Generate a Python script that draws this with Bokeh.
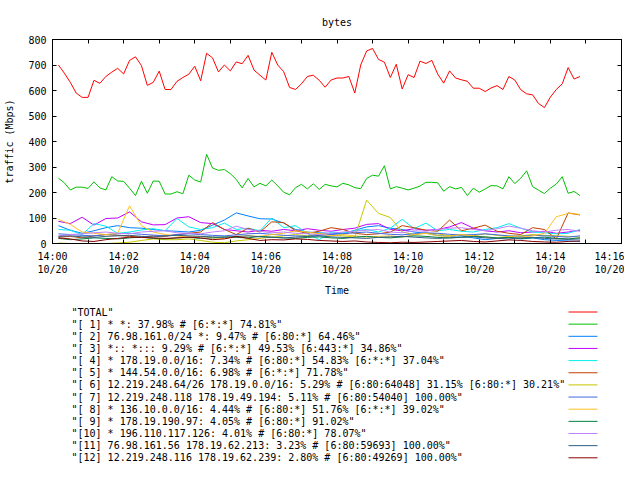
from bokeh.plotting import figure
from bokeh.models import Range1d, LinearAxis, FixedTicker
from bokeh.layouts import column
from bokeh.embed import file_html
from bokeh.resources import INLINE
from bokeh.core.properties import value

FONT = "DejaVu Sans Mono"

# ---------------- data ----------------
# seconds after 14:00 (10/20)
t_main = list(range(10, 900, 10))      # TOTAL and [1], sampled every 10 s
t_low = list(range(10, 900, 20))       # smaller flows, read every 20 s

total = [700, 668, 632, 590, 573, 573, 640, 628, 655, 672, 687, 665, 718, 732, 698,
         620, 632, 676, 604, 604, 636, 651, 664, 695, 638, 746, 728, 673, 700, 677,
         712, 705, 738, 680, 660, 641, 750, 700, 674, 612, 604, 626, 655, 660, 640,
         613, 641, 649, 649, 655, 590, 700, 755, 765, 722, 711, 651, 703, 606, 662,
         651, 715, 706, 718, 664, 629, 677, 649, 642, 636, 609, 609, 596, 610, 619,
         604, 655, 641, 603, 587, 583, 549, 533, 574, 604, 626, 690, 645, 655]
s1 = [256, 238, 210, 221, 221, 216, 242, 218, 210, 262, 245, 244, 217, 188, 244,
      197, 245, 244, 194, 194, 203, 195, 268, 249, 241, 350, 296, 287, 290, 274,
      251, 218, 255, 222, 236, 226, 249, 226, 201, 191, 219, 232, 214, 234, 212,
      232, 226, 222, 236, 230, 219, 215, 255, 268, 264, 305, 214, 223, 217, 210,
      217, 225, 240, 240, 238, 205, 223, 214, 220, 188, 217, 201, 214, 227, 226,
      214, 262, 235, 256, 285, 223, 209, 196, 217, 233, 262, 197, 204, 188]
s2 = [70, 52, 40, 50, 62, 70, 62, 60, 55, 50, 48, 45, 52, 72, 92, 120, 108, 97, 96, 80,
      55, 45, 42, 40, 38, 52, 65, 70, 60, 55, 45, 40, 32, 28, 30, 22, 15, 20, 25, 18,
      22, 15, 12, 10, 8]
s3 = [87, 78, 103, 72, 98, 100, 124, 85, 73, 74, 100, 105, 82, 78, 55, 50, 45, 52, 48, 55,
      50, 58, 52, 48, 55, 60, 75, 78, 55, 50, 58, 52, 55, 65, 82, 60, 50, 45, 50, 42,
      45, 48, 40, 45, 52]
s4 = [55, 52, 35, 78, 68, 40, 45, 53, 58, 50, 98, 65, 55, 62, 80, 55, 60, 50, 100, 62,
      70, 40, 15, 45, 42, 50, 55, 45, 60, 95, 58, 80, 50, 55, 48, 45, 55, 62, 78, 60,
      45, 42, 38, 40, 55]
s5 = [25, 28, 22, 30, 35, 32, 28, 25, 30, 28, 35, 40, 45, 82, 55, 35, 60, 45, 85, 82,
      50, 40, 48, 62, 55, 40, 35, 38, 45, 70, 62, 52, 48, 92, 50, 60, 72, 48, 40, 35,
      62, 55, 18, 120, 112]
s6 = [2, 0, 0, 0, 0, 2, 5, 12, 18, 15, 15, 18, 12, 5, 3, 10, 15, 20, 25, 30,
      35, 30, 40, 35, 30, 25, 170, 118, 102, 45, 35, 40, 38, 30, 35, 30, 38, 32, 28, 30,
      35, 32, 30, 28, 25]
s7 = [38, 35, 32, 30, 35, 38, 40, 36, 33, 30, 35, 38, 35, 32, 30, 34, 38, 40, 36, 32,
      30, 28, 32, 35, 38, 42, 45, 40, 36, 34, 38, 42, 40, 36, 33, 35, 38, 34, 30, 28,
      32, 30, 28, 25, 30]
s8 = [95, 75, 45, 40, 35, 40, 148, 70, 45, 35, 30, 25, 28, 22, 20, 25, 30, 28, 35, 40,
      50, 45, 38, 30, 35, 30, 25, 28, 30, 25, 35, 40, 30, 28, 35, 30, 25, 22, 28, 25,
      30, 40, 105, 118, 114]
s9 = [20, 15, 18, 22, 20, 18, 22, 25, 20, 18, 22, 24, 20, 22, 26, 24, 22, 28, 25, 22,
      20, 24, 26, 22, 20, 25, 28, 24, 22, 26, 30, 28, 24, 22, 25, 28, 26, 22, 24, 20,
      22, 25, 20, 18, 22]
s10 = [30, 35, 38, 42, 45, 40, 38, 45, 48, 50, 42, 40, 38, 45, 50, 68, 55, 48, 42, 45,
       40, 38, 35, 40, 45, 48, 52, 55, 45, 42, 50, 48, 55, 60, 62, 55, 50, 58, 68, 60,
       50, 45, 52, 55, 48]
s11 = [28, 30, 26, 24, 28, 30, 32, 28, 26, 30, 32, 30, 28, 26, 24, 28, 30, 26, 24, 22,
       25, 28, 30, 26, 24, 22, 20, 24, 26, 28, 25, 22, 20, 22, 24, 26, 22, 20, 18, 22,
       24, 20, 18, 16, 18]
s12 = [22, 18, 10, 8, 15, 20, 25, 24, 22, 20, 22, 25, 22, 15, 18, 28, 20, 12, 15, 14,
       18, 16, 12, 10, 8, 10, 6, 4, 3, 5, 4, 6, 8, 10, 12, 8, 6, 10, 14, 12,
       8, 6, 5, 8, 10]

labels = [
    '"TOTAL"',
    '"[ 1] * *: 37.98% # [6:*:*] 74.81%"',
    '"[ 2] 76.98.161.0/24 *: 9.47% # [6:80:*] 64.46%"',
    '"[ 3] *:: *::: 9.29% # [6:*:*] 49.53% [6:443:*] 34.86%"',
    '"[ 4] * 178.19.0.0/16: 7.34% # [6:80:*] 54.83% [6:*:*] 37.04%"',
    '"[ 5] * 144.54.0.0/16: 6.98% # [6:*:*] 71.78%"',
    '"[ 6] 12.219.248.64/26 178.19.0.0/16: 5.29% # [6:80:64048] 31.15% [6:80:*] 30.21%"',
    '"[ 7] 12.219.248.118 178.19.49.194: 5.11% # [6:80:54040] 100.00%"',
    '"[ 8] * 136.10.0.0/16: 4.44% # [6:80:*] 51.76% [6:*:*] 39.02%"',
    '"[ 9] * 178.19.190.97: 4.05% # [6:80:*] 91.02%"',
    '"[10] * 196.110.117.126: 4.01% # [6:80:*] 78.07%"',
    '"[11] 76.98.161.56 178.19.62.213: 3.23% # [6:80:59693] 100.00%"',
    '"[12] 12.219.248.116 178.19.62.239: 2.80% # [6:80:49269] 100.00%"',
]
colors = ["#ff0000", "#00c000", "#0080ff", "#c000ff", "#00eeee", "#c04000", "#c8c800",
          "#4169e1", "#ffc020", "#008040", "#c080ff", "#306080", "#8b0000"]

x_ticks = [0, 120, 240, 360, 480, 600, 720, 840, 960]
x_tick_labels = ["14:00\n10/20", "14:02\n10/20", "14:04\n10/20", "14:06\n10/20",
                 "14:08\n10/20", "14:10\n10/20", "14:12\n10/20", "14:14\n10/20",
                 "14:16\n10/20"]
x_minor_ticks = [60, 180, 300, 420, 540, 660, 780, 900]
y_ticks = [0, 100, 200, 300, 400, 500, 600, 700, 800]

# ---------------- layout constants (pixels) ----------------
W, H1, H2 = 624, 300, 164
LEFT, RIGHT, TOP = 52, 3, 39
BOTTOM = H1 - TOP - 204

# ---------------- main plot ----------------
p = figure(width=W, height=H1, x_range=Range1d(0, 960), y_range=Range1d(0, 800),
           output_backend="svg", toolbar_location=None, title="bytes",
           min_border_left=LEFT, min_border_right=RIGHT, min_border_top=TOP,
           min_border_bottom=BOTTOM)
p.background_fill_color = "white"
p.border_fill_color = "white"
p.outline_line_color = "black"
p.outline_line_width = 1
p.grid.visible = False
p.title.align = "center"
p.title.text_font = FONT
p.title.text_font_size = "10px"
p.title.text_font_style = "normal"
p.title.text_color = "black"
p.title.standoff = 24

all_x_ticks = sorted(x_ticks + x_minor_ticks)
overrides = {t: "" for t in x_minor_ticks}
overrides.update({t: lab for t, lab in zip(x_ticks, x_tick_labels)})


def style_axis(ax):
    ax.axis_line_color = "black"
    ax.major_tick_line_color = "black"
    ax.major_tick_in = 4
    ax.major_tick_out = 0
    ax.minor_tick_in = 0
    ax.minor_tick_out = 0
    ax.major_label_text_font = FONT
    ax.major_label_text_font_size = "10px"
    ax.major_label_text_color = "black"
    ax.axis_label_text_font = FONT
    ax.axis_label_text_font_size = "10px"
    ax.axis_label_text_font_style = "normal"
    ax.axis_label_text_color = "black"


xa = p.xaxis[0]
xa.ticker = FixedTicker(ticks=all_x_ticks, minor_ticks=[])
xa.major_label_overrides = overrides
xa.axis_label = "Time"
style_axis(xa)
xa.major_label_standoff = 7
xa.axis_label_standoff = 7

ya = p.yaxis[0]
ya.ticker = FixedTicker(ticks=y_ticks, minor_ticks=[])
ya.axis_label = "traffic (Mbps)"
style_axis(ya)
ya.major_label_standoff = 6
ya.axis_label_standoff = 10

# mirrored ticks on the top and right (no labels)
top = LinearAxis(ticker=FixedTicker(ticks=all_x_ticks, minor_ticks=[]))
style_axis(top)
top.major_label_overrides = {t: "" for t in all_x_ticks}
top.major_label_text_font_size = "0px"
top.major_label_standoff = 0
p.add_layout(top, "above")
right = LinearAxis(ticker=FixedTicker(ticks=y_ticks, minor_ticks=[]))
style_axis(right)
right.major_label_overrides = {t: "" for t in y_ticks}
right.major_label_text_font_size = "0px"
right.major_label_standoff = 0
p.add_layout(right, "right")

series = [total, s1, s2, s3, s4, s5, s6, s7, s8, s9, s10, s11, s12]
for ys, c in zip(series, colors):
    xs = t_main if len(ys) == len(t_main) else t_low
    p.line(xs, ys, line_color=c, line_width=1)

# ---------------- key (gnuplot style: text left, sample right) ----------------
k = figure(width=W, height=H2, x_range=Range1d(LEFT, W - RIGHT), y_range=Range1d(0, H2),
           output_backend="svg", toolbar_location=None,
           min_border_left=LEFT, min_border_right=RIGHT, min_border_top=0, min_border_bottom=0,
           x_axis_location=None, y_axis_location=None)
k.grid.visible = False
k.outline_line_color = None
k.background_fill_color = "white"
k.border_fill_color = "white"
row_y = [H2 - 11.5 - 12.15 * i for i in range(len(labels))]
k.text(x=[71] * len(labels), y=row_y, text=labels, text_font=value(FONT),
       text_font_size="10px", text_baseline="middle", text_align="left", text_color="black")
k.multi_line(xs=[[568, 597]] * len(labels), ys=[[yy, yy] for yy in row_y],
             line_color=colors, line_width=1)

layout = column(p, k, spacing=0)
open("out.html", "w").write(file_html(layout, INLINE))
